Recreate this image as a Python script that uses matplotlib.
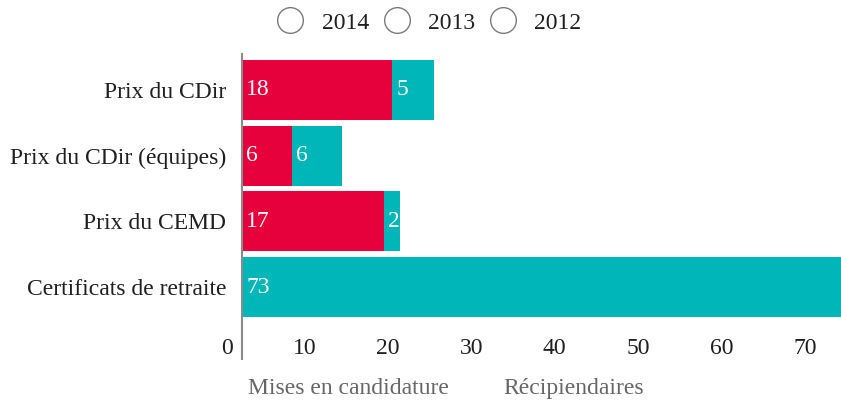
import matplotlib
matplotlib.use('Agg')
import matplotlib.pyplot as plt
from matplotlib.lines import Line2D
from matplotlib.transforms import ScaledTranslation

# Donnees
categories = ['Prix du CDir', 'Prix du CDir (équipes)', 'Prix du CEMD', 'Certificats de retraite']
candidatures = [18, 6, 17, 0]
recipiendaires = [5, 6, 2, 73]
annees = ['2014', '2013', '2012']
xticks = [0, 10, 20, 30, 40, 50, 60, 70]

rouge = '#e6003c'
turquoise = '#00b6b9'
texte = '#1f1f1f'

plt.rcParams['font.family'] = ['Liberation Serif', 'DejaVu Serif']
plt.rcParams['font.size'] = 17

W, H = 841, 404
fig = plt.figure(figsize=(W / 100, H / 100), dpi=100)
ax = fig.add_axes([242 / W, 45 / H, 599 / W, 305 / H])

y = list(range(len(categories)))
b1 = ax.barh(y, candidatures, height=0.914, color=rouge, label='Mises en candidature')
b2 = ax.barh(y, recipiendaires, left=candidatures, height=0.914, color=turquoise, label='Récipiendaires')

# Valeurs dans les barres
for i in y:
    for left, val in [(0, candidatures[i]), (candidatures[i], recipiendaires[i])]:
        if val > 0:
            ax.annotate(str(val), xy=(left, i), xytext=(4, 0), textcoords='offset pixels',
                        ha='left', va='center', color='white')

ax.set_xlim(0, 599 / 8.34)
ax.set_ylim(4.096, -0.548)

ax.set_yticks(y)
ax.set_yticklabels(categories)
ax.tick_params(axis='y', length=0, pad=11.5, colors=texte)
ax.set_xticks(xticks)
ax.set_xticklabels([str(v) for v in xticks])
ax.tick_params(axis='x', length=0, pad=0, colors=texte)
for lab in ax.get_xticklabels():
    lab.set_verticalalignment('center')
    lab.set_horizontalalignment('right')
    lab.set_transform(lab.get_transform() + ScaledTranslation(-0.09, 0.10, fig.dpi_scale_trans))

for s in ['top', 'right', 'bottom']:
    ax.spines[s].set_visible(False)
ax.spines['left'].set_color('#8a8a8a')
ax.spines['left'].set_linewidth(1.5)

# Boutons des annees
handles = [Line2D([], [], marker='o', linestyle='none', markersize=18.5,
                  markerfacecolor='white', markeredgecolor='#7a7a7a', markeredgewidth=1.0)
           for a in annees]
fig.legend(handles, annees, loc='center', bbox_to_anchor=(429 / W, 1 - 23 / H), ncol=3,
           frameon=False, handlelength=1.15, handletextpad=0.75, columnspacing=0.6,
           labelcolor=texte)

# Legende du bas
leg = fig.legend([b1, b2], ['Mises en candidature', 'Récipiendaires'], loc='center',
                 bbox_to_anchor=(446 / W, 1 - 388 / H), ncol=2, frameon=False,
                 handlelength=0, handletextpad=0, columnspacing=2.3, labelcolor='#666666')
for h in leg.legend_handles:
    h.set_visible(False)

fig.savefig('out.png', dpi=100)
